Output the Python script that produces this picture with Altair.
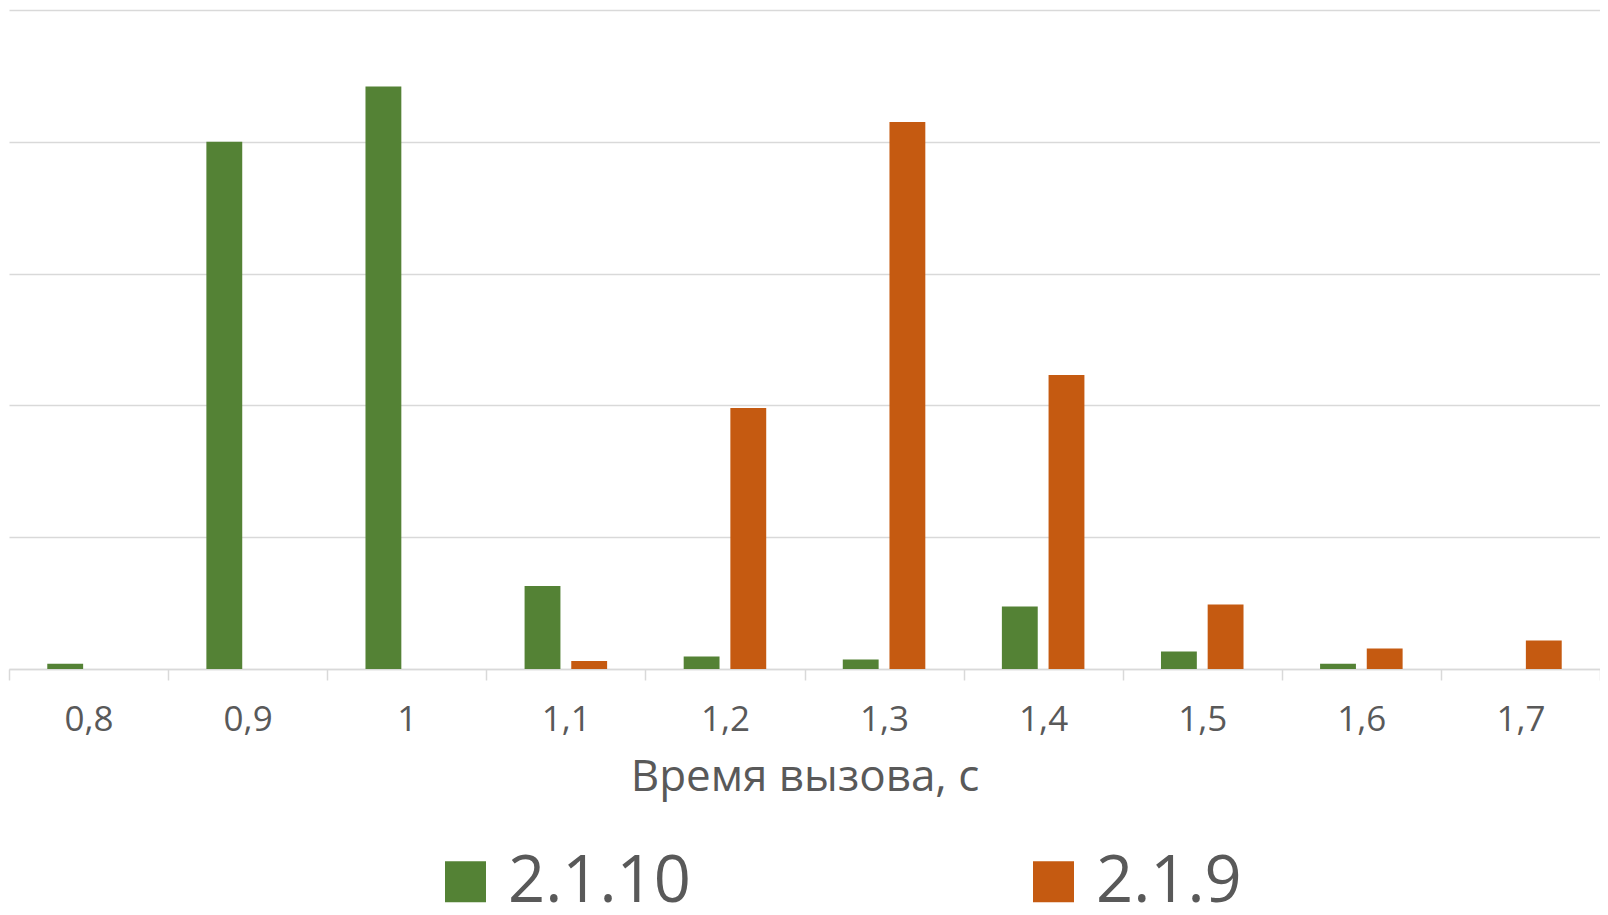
import altair as alt
import pandas as pd

categories = ["0,8", "0,9", "1", "1,1", "1,2", "1,3", "1,4", "1,5", "1,6", "1,7"]
series_names = ["2.1.10", "2.1.9"]
values_2110 = [0.4, 40.0, 44.2, 6.3, 0.95, 0.72, 4.75, 1.33, 0.4, 0.0]
values_219 = [0.0, 0.0, 0.0, 0.6, 19.8, 41.5, 22.3, 4.9, 1.55, 2.17]
colors = ["#548235", "#C55A11"]

rows = []
for c, a, b in zip(categories, values_2110, values_219):
    rows.append({"cat": c, "series": series_names[0], "value": a})
    rows.append({"cat": c, "series": series_names[1], "value": b})
df = pd.DataFrame(rows)

FONT = "Open Sans"
GREY = "#595959"

chart = alt.Chart(df).mark_bar().encode(
    x=alt.X("cat:N", sort=categories,
            scale=alt.Scale(paddingInner=0, paddingOuter=0),
            axis=alt.Axis(title="Время вызова, с", labelAngle=0, tickBand="extent",
                          labelFontSize=35, labelFont=FONT, labelColor=GREY,
                          titleFontSize=44, titleFont=FONT, titleColor=GREY,
                          titleFontWeight="normal", labelPadding=22, titlePadding=18,
                          domainColor="#d9d9d9", tickColor="#d9d9d9", tickSize=11,
                          domainWidth=1.5, tickWidth=1.5)),
    xOffset=alt.XOffset("series:N", sort=series_names,
                        scale=alt.Scale(paddingInner=0.232, paddingOuter=0.82)),
    y=alt.Y("value:Q", scale=alt.Scale(domain=[0, 50], nice=False),
            axis=alt.Axis(title=None, labels=False, ticks=False, domain=False,
                          values=[0, 10, 20, 30, 40, 50], gridColor="#d9d9d9",
                          gridWidth=1.5)),
    color=alt.Color("series:N", sort=series_names,
                    scale=alt.Scale(domain=series_names, range=colors),
                    legend=alt.Legend(title=None, orient="none", legendX=424, legendY=839,
                                      direction="horizontal", columns=2, columnPadding=330,
                                      symbolType="square", symbolSize=1681,
                                      symbolStrokeWidth=0, labelFontSize=65,
                                      labelFont=FONT, labelColor=GREY, labelOffset=10,
                                      padding=0, symbolOpacity=1, labelLimit=0)),
).properties(
    width=1591, height=659,
    autosize=alt.AutoSizeParams(type="none"),
    padding={"left": 1, "top": 2, "right": 0, "bottom": 238},
).configure_view(stroke=None)

chart.save("out.html", embed_options={"renderer": "svg", "actions": False})
